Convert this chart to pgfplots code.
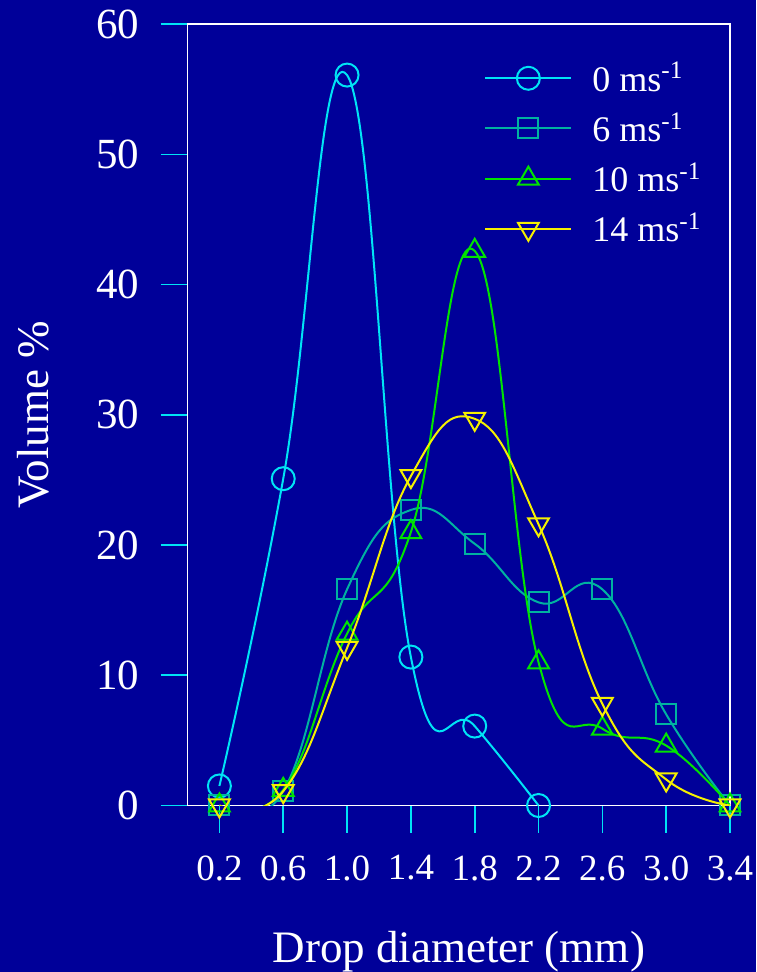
\documentclass[border=0pt]{standalone}
\usepackage{fontspec}
\setmainfont{Liberation Serif}
\usepackage{pgfplots}
\pgfplotsset{compat=1.18}

\definecolor{bgnavy}{RGB}{0,0,153}
\definecolor{c0}{RGB}{0,228,245}
\definecolor{c6}{RGB}{0,178,160}
\definecolor{c10}{RGB}{0,228,0}
\definecolor{c14}{RGB}{245,240,0}

\begin{document}
\begin{tikzpicture}
\fill[bgnavy] (0,0) rectangle (378pt,486pt);
\useasboundingbox (0,0) rectangle (378pt,486pt);
\begin{axis}[
  at={(93.75pt,83.25pt)}, anchor=south west,
  scale only axis, width=271.25pt, height=390.6pt,
  xmin=0, xmax=3.4, ymin=0, ymax=60,
  clip mode=individual,
  axis line style={white, line width=0.8pt},
  tick pos=left, tick align=outside,
  major tick length=13.5pt,
  tick style={c0, line width=0.8pt},
  xtick={0.2,0.6,1.0,1.4,1.8,2.2,2.6,3.0,3.4},
  xticklabels={0.2,0.6,1.0,1.4,1.8,2.2,2.6,3.0,3.4},
  ytick={0,10,20,30,40,50,60},
  yticklabels={0,10,20,30,40,50,60},
  xticklabel style={white, font=\fontsize{18.5}{22}\selectfont, yshift=-8pt},
  yticklabel style={white, font=\fontsize{21.5}{26}\selectfont, xshift=-7pt},
  xlabel={Drop diameter (mm)},
  ylabel={Volume \%},
  label style={white, font=\fontsize{22.5}{27}\selectfont},
  xlabel style={at={(axis description cs:0.5,-0.2012)}, anchor=base},
  ylabel style={at={(axis description cs:-0.2571,0.5)}, anchor=base},
  legend cell align=left,
  legend image code/.code={\draw[mark repeat=2,mark phase=2] plot coordinates {(0pt,0pt) (21.5pt,0pt) (43pt,0pt)};},
  legend style={at={(0.5465,0.952)}, anchor=north west, draw=none, fill=none,
    inner sep=0pt, row sep=9pt, column sep=10pt, text=white,
    font=\fontsize{18}{21.6}\selectfont,
    nodes={inner sep=0pt}},
  every axis plot/.append style={line width=1pt, smooth, tension=0.75},
]
% 0 m/s
\addplot[c0, mark=o, mark size=5.75pt, mark options={line width=1pt}]
  coordinates {(0.2,1.5) (0.6,25.1) (1.0,56.1) (1.4,11.4) (1.8,6.1) (2.2,0)};
\addlegendentry{0 ms\textsuperscript{-1}}
% 6 m/s
\addplot[c6, mark=square, mark size=5pt, mark options={line width=1pt}]
  coordinates {(0.2,0) (0.6,1.1) (1.0,16.6) (1.4,22.7) (1.8,20.1) (2.2,15.6) (2.6,16.6) (3.0,7.0) (3.4,0)};
\addlegendentry{6 ms\textsuperscript{-1}}
% 10 m/s
\addplot[c10, mark=triangle, mark size=6pt, mark options={line width=1pt}]
  coordinates {(0.2,0) (0.6,1.2) (1.0,13.2) (1.4,21.0) (1.8,42.6) (2.2,11.0) (2.6,5.9) (3.0,4.6) (3.4,0)};
\addlegendentry{10 ms\textsuperscript{-1}}
% 14 m/s
\addplot[c14, mark=triangle, mark size=6pt, mark options={line width=1pt, rotate=180}]
  coordinates {(0.2,0) (0.6,1.1) (1.0,12.1) (1.4,25.3) (1.8,29.7) (2.2,21.6) (2.6,7.8) (3.0,2.0) (3.4,0)};
\addlegendentry{14 ms\textsuperscript{-1}}
\end{axis}
\end{tikzpicture}
\end{document}
